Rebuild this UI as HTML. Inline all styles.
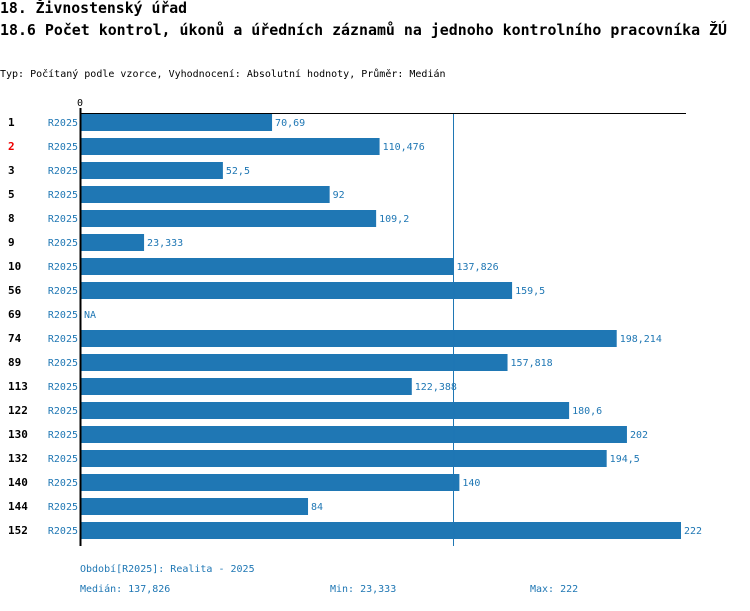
<!DOCTYPE html>
<html><head><meta charset="utf-8"><style>
body{margin:0;background:#fff;}
svg text{font-family:"DejaVu Sans Mono","Liberation Mono",monospace;}
</style></head><body>
<svg width="750" height="606" xmlns="http://www.w3.org/2000/svg">
<text x="0" y="13" font-size="14.8" font-weight="bold" fill="#000">18. Živnostenský úřad</text>
<text x="0" y="35" font-size="14.8" font-weight="bold" fill="#000" textLength="727" lengthAdjust="spacingAndGlyphs">18.6 Počet kontrol, úkonů a úředních záznamů na jednoho kontrolního pracovníka ŽÚ</text>
<text x="0" y="77" font-size="10" fill="#000">Typ: Počítaný podle vzorce, Vyhodnocení: Absolutní hodnoty, Průměr: Medián</text>
<g id="plot"></g>
<text x="80" y="572" font-size="10" fill="#1f77b4">Období[R2025]: Realita - 2025</text>
<text x="80" y="592" font-size="10" fill="#1f77b4">Medián: 137,826</text>
<text x="330" y="592" font-size="10" fill="#1f77b4">Min: 23,333</text>
<text x="530" y="592" font-size="10" fill="#1f77b4">Max: 222</text>
</svg>
<script>
const categories=["1","2","3","5","8","9","10","56","69","74","89","113","122","130","132","140","144","152"];
const values=[70.69,110.476,52.5,92,109.2,23.333,137.826,159.5,null,198.214,157.818,122.388,180.6,202,194.5,140,84,222];
const valueLabels=["70,69","110,476","52,5","92","109,2","23,333","137,826","159,5","NA","198,214","157,818","122,388","180,6","202","194,5","140","84","222"];
const highlighted=["2"];
const medianValue=137.826;
const maxValue=222;
(function(){
const NS="http://www.w3.org/2000/svg";
const g=document.getElementById('plot');
const x0=81,x1=681;
const xs=v=>x0+(v/maxValue)*(x1-x0);
const ys=i=>122+i*24;
function mk(t,a){const e=document.createElementNS(NS,t);for(const k in a)e.setAttribute(k,a[k]);g.appendChild(e);return e;}
categories.forEach((c,i)=>{
  const y=ys(i);
  const lab=mk('text',{x:8,y:y+4,'font-size':11,'font-weight':'bold',fill:highlighted.includes(c)?'#e00':'#000'});
  
  
  lab.textContent=c;
  const per=mk('text',{x:78,y:y+4,'font-size':10,fill:'#1f77b4','text-anchor':'end'});
  
  
  per.textContent='R2025';
  const v=values[i];
  let end=x0;
  if(v!==null){
    end=xs(v);
    const r=mk('rect',{x:x0,y:y-8,width:end-x0,height:17,fill:'#1f77b4'});
    
    
  }
  const vl=mk('text',{x:end+3,y:y+4,'font-size':10,fill:'#1f77b4'});
  
  
  vl.textContent=valueLabels[i];
});
const ml=mk('line',{x1:xs(medianValue),x2:xs(medianValue),y1:113,y2:546,stroke:'#1f77b4','stroke-width':1});


const topLine=mk('line',{x1:80,x2:686,y1:113.5,y2:113.5,stroke:'#000','stroke-width':1});


const ax=mk('line',{x1:80.5,x2:80.5,y1:108,y2:546,stroke:'#000','stroke-width':2});


const z=mk('text',{x:80,y:106,'font-size':10,fill:'#000','text-anchor':'middle'});


z.textContent='0';
})();
</script>
</body></html>
